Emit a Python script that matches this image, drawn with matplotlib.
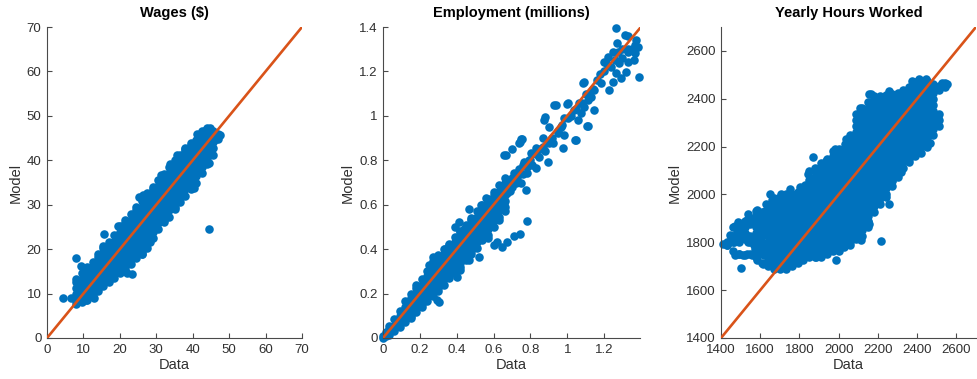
import matplotlib
matplotlib.use("Agg")
import matplotlib.pyplot as plt
from matplotlib.ticker import FuncFormatter

plt.rcParams['font.family'] = ['Liberation Sans', 'DejaVu Sans']

# ---------------- Wages ($) ----------------
# dense band, read column by column (data x, list of model y)
wage_col_x = [8.0, 9.5, 11.0, 12.5, 14.0, 15.5, 17.0, 18.5, 20.0, 21.5, 23.0, 24.5, 26.0, 27.5,
              29.0, 30.5, 32.0, 33.5, 35.0, 36.5, 38.0, 39.5, 41.0, 42.5, 44.0, 45.5, 47.0]
wage_col_y = [
    [7.6, 8.4, 9.8, 11.2, 12.6, 13.2],
    [8.2, 9.1, 10.5, 11.9, 13.3, 14.7],
    [8.6, 9.8, 11.2, 12.6, 14.0, 15.4, 16.0],
    [9.5, 10.5, 11.9, 13.3, 14.7, 16.1, 17.0],
    [10.5, 11.2, 12.6, 14.0, 15.4, 16.8, 18.2, 19.0],
    [11.6, 13.3, 14.7, 16.1, 17.5, 18.9, 20.3, 20.8],
    [12.6, 14.0, 15.4, 16.8, 18.2, 19.6, 21.0, 21.6],
    [13.4, 14.7, 16.1, 17.5, 18.9, 20.3, 21.7, 23.1],
    [14.6, 15.4, 16.8, 18.2, 19.6, 21.0, 22.4, 23.8, 25.2],
    [15.5, 16.1, 17.5, 18.9, 20.3, 21.7, 23.1, 24.5, 25.9, 26.5],
    [16.6, 18.2, 19.6, 21.0, 22.4, 23.8, 25.2, 26.6, 28.0],
    [17.9, 18.9, 20.3, 21.7, 23.1, 24.5, 25.9, 27.3, 28.7, 29.5],
    [19.0, 19.6, 21.0, 22.4, 23.8, 25.2, 26.6, 28.0, 29.4, 30.8, 31.6],
    [20.3, 21.7, 23.1, 24.5, 25.9, 27.3, 28.7, 30.1, 31.5, 32.6],
    [22.4, 23.8, 25.2, 26.6, 28.0, 29.4, 30.8, 32.2, 33.6, 34.0],
    [24.5, 25.9, 27.3, 28.7, 30.1, 31.5, 32.9, 34.3, 35.5],
    [26.0, 26.6, 28.0, 29.4, 30.8, 32.2, 33.6, 35.0, 36.4, 37.0],
    [27.3, 28.7, 30.1, 31.5, 32.9, 34.3, 35.7, 37.1, 38.5],
    [29.0, 29.4, 30.8, 32.2, 33.6, 35.0, 36.4, 37.8, 39.2, 40.0],
    [30.5, 31.5, 32.9, 34.3, 35.7, 37.1, 38.5, 39.9, 41.2],
    [32.0, 33.6, 35.0, 36.4, 37.8, 39.2, 40.6, 42.0, 42.6],
    [33.6, 34.6, 35.7, 37.1, 38.5, 39.9, 41.3, 42.7, 43.5],
    [35.0, 36.4, 37.8, 39.2, 40.6, 42.0, 43.4, 44.6],
    [37.1, 38.5, 39.9, 41.3, 42.7, 44.1, 45.5, 46.5],
    [39.2, 40.6, 42.0, 43.4, 44.8, 46.2, 47.2],
    [41.3, 42.7, 44.1, 45.5, 46.5],
    [44.8, 46.0],
]
# scattered points off the band
wage_extra_x = [4.3, 6.6, 8.0, 9.2, 15.6, 19.5, 23.2, 21.9, 26.0, 28.2, 28.1, 31.7, 44.5, 44.5,
                47.4, 46.3, 44.8, 43.6, 12.8, 10.6, 25.3, 26.4, 31.4, 33.9, 35.6, 37.8, 39.4,
                41.2, 40.3, 42.0, 43.0]
wage_extra_y = [9.0, 9.0, 17.9, 16.2, 23.4, 25.2, 14.4, 14.6, 19.0, 21.5, 22.3, 26.5, 24.6, 39.4,
                45.6, 44.7, 47.3, 46.9, 8.9, 8.5, 31.7, 32.2, 36.8, 39.1, 41.1, 42.8, 43.9,
                45.9, 33.8, 40.5, 39.3]

# ---------------- Employment (millions) ----------------
emp_col_x = [0.0, 0.015, 0.03, 0.06, 0.09, 0.12, 0.15, 0.18, 0.21, 0.24, 0.27, 0.30, 0.33,
             0.36, 0.39, 0.42, 0.45, 0.48, 0.51, 0.54, 0.57, 0.60, 0.63, 0.66]
emp_col_y = [
    [0.0, 0.01],
    [0.008, 0.025],
    [0.014, 0.042, 0.055],
    [0.03, 0.056, 0.084],
    [0.05, 0.07, 0.098, 0.122],
    [0.07, 0.084, 0.112, 0.14, 0.168],
    [0.09, 0.098, 0.126, 0.154, 0.182, 0.2],
    [0.116, 0.14, 0.168, 0.196, 0.224, 0.24],
    [0.138, 0.154, 0.182, 0.21, 0.238, 0.266],
    [0.168, 0.196, 0.224, 0.252, 0.28, 0.3],
    [0.19, 0.21, 0.238, 0.266, 0.294, 0.322, 0.345],
    [0.212, 0.224, 0.252, 0.28, 0.308, 0.336, 0.364, 0.372],
    [0.238, 0.266, 0.294, 0.322, 0.35, 0.378, 0.4],
    [0.27, 0.28, 0.308, 0.336, 0.364, 0.392, 0.42, 0.425],
    [0.294, 0.322, 0.35, 0.378, 0.406, 0.434, 0.455],
    [0.32, 0.336, 0.364, 0.392, 0.42, 0.448, 0.476, 0.48],
    [0.35, 0.378, 0.406, 0.434, 0.462, 0.49, 0.51],
    [0.38, 0.392, 0.42, 0.448, 0.476, 0.504, 0.532, 0.54],
    [0.406, 0.434, 0.462, 0.49, 0.518, 0.546, 0.57],
    [0.44, 0.448, 0.476, 0.504, 0.532, 0.56, 0.588, 0.6],
    [0.462, 0.49, 0.518, 0.546, 0.574, 0.602, 0.625],
    [0.5, 0.532, 0.56, 0.588, 0.616, 0.644, 0.655],
    [0.53, 0.546, 0.574, 0.602, 0.63, 0.658, 0.69],
    [0.57, 0.588, 0.616, 0.644, 0.672, 0.7, 0.72],
]
emp_extra_x = [0.638, 0.666, 0.655, 0.70, 0.738, 0.751, 0.755, 0.745, 0.711, 0.693, 0.747, 0.775,
               0.675, 0.657, 0.784, 0.829, 0.766, 0.802, 0.829, 0.847, 0.893, 0.866, 0.875, 0.882,
               0.902, 0.921, 0.927, 0.938, 0.948, 0.966, 0.975, 0.984, 1.0, 1.002, 1.002, 1.038,
               1.042, 1.047, 1.057, 1.066, 1.075, 1.084, 1.093, 1.109, 1.111, 1.111, 1.129, 1.147,
               1.147, 1.184, 1.202, 1.215, 1.22, 1.229, 1.248, 1.248, 1.266, 1.266, 1.271, 1.273,
               1.293, 1.311, 1.32, 1.329, 1.329, 1.329, 1.366, 1.375, 1.384, 1.387, 1.09,
               0.68, 0.70, 0.72, 0.72, 0.74, 0.76, 0.78, 0.80, 0.81, 0.70, 0.69, 0.73, 0.76, 0.79,
               0.83, 0.85, 0.87, 0.88, 0.90, 0.92, 0.95, 0.97, 0.98, 1.02, 1.05, 1.08, 1.10, 1.12,
               1.14, 1.16, 1.18, 1.20, 1.24, 1.26, 1.28, 1.30, 1.33, 1.35, 1.37, 1.30, 1.36,
               0.784, 0.602, 0.618, 0.648, 0.675, 0.711, 0.744, 0.52, 0.466, 0.42, 0.402, 0.384,
               0.293, 0.302, 0.57, 0.39, 0.41, 0.466, 0.336, 0.273, 0.44, 0.25, 0.53, 0.56]
emp_extra_y = [0.681, 0.824, 0.822, 0.852, 0.877, 0.894, 0.897, 0.882, 0.742, 0.712, 0.697, 0.666,
               0.651, 0.606, 0.742, 0.764, 0.794, 0.832, 0.854, 0.816, 0.794, 0.899, 0.982, 0.995,
               0.949, 0.877, 1.047, 1.049, 0.922, 0.952, 0.854, 0.914, 1.055, 0.99, 1.057, 1.027,
               0.893, 0.891, 0.982, 1.057, 1.012, 1.15, 1.042, 0.953, 1.072, 0.955, 1.087, 1.117,
               1.027, 1.147, 1.244, 1.235, 1.267, 1.117, 1.289, 1.154, 1.192, 1.395, 1.327, 1.288,
               1.169, 1.364, 1.199, 1.36, 1.289, 1.244, 1.282, 1.342, 1.312, 1.177, 1.152,
               0.70, 0.72, 0.70, 0.74, 0.76, 0.78, 0.77, 0.80, 0.78, 0.68, 0.66, 0.72, 0.74, 0.80,
               0.83, 0.85, 0.86, 0.84, 0.88, 0.90, 0.93, 0.96, 0.99, 1.00, 1.03, 1.06, 1.10, 1.10,
               1.12, 1.16, 1.19, 1.20, 1.22, 1.25, 1.24, 1.30, 1.30, 1.30, 1.32, 1.26, 1.25,
               0.528, 0.419, 0.43, 0.408, 0.434, 0.459, 0.468, 0.366, 0.35, 0.306, 0.276, 0.31,
               0.171, 0.16, 0.45, 0.50, 0.522, 0.579, 0.402, 0.365, 0.49, 0.33, 0.60, 0.63]

# ---------------- Yearly Hours Worked ----------------
hrs_col_x = [1430, 1460, 1490, 1520, 1550, 1580, 1610,
             1640, 1670, 1700, 1730, 1760, 1790, 1820, 1850, 1880, 1910, 1940, 1970, 2000, 2030,
             2060, 2090, 2120, 2150, 2180, 2210, 2240, 2270, 2300, 2330, 2360, 2390, 2420, 2450,
             2480, 2510, 2540]
hrs_col_y = [
    [1790, 1800],
    [1762, 1800, 1825, 1862],
    [1750, 1800, 1825, 1850, 1880],
    [1745, 1812, 1837, 1862, 1890],
    [1750, 1800, 1825, 1875, 1900],
    [1737, 1762, 1787, 1812, 1837, 1862, 1887, 1912, 1930],
    [1715, 1750, 1775, 1800, 1825, 1850, 1875, 1900, 1925],
    [1700, 1725, 1750, 1775, 1800, 1825, 1850, 1875, 1900, 1925, 1950],
    [1687, 1712, 1737, 1762, 1787, 1812, 1837, 1862, 1887, 1912, 1937, 1962, 1987],
    [1688, 1700, 1725, 1750, 1775, 1800, 1825, 1850, 1875, 1900, 1925, 1950, 1975, 1990],
    [1687, 1712, 1737, 1762, 1787, 1812, 1837, 1862, 1887, 1912, 1937, 1962, 1987, 2000],
    [1700, 1725, 1750, 1775, 1800, 1825, 1850, 1875, 1900, 1925, 1950, 1975, 2000],
    [1712, 1737, 1762, 1787, 1812, 1837, 1862, 1887, 1912, 1937, 1962, 1987, 2012],
    [1725, 1750, 1775, 1800, 1825, 1850, 1875, 1900, 1925, 1950, 1975, 2000, 2025],
    [1737, 1762, 1787, 1812, 1837, 1862, 1887, 1912, 1937, 1962, 1987, 2012, 2037, 2062],
    [1738, 1750, 1775, 1800, 1825, 1850, 1875, 1900, 1925, 1950, 1975, 2000, 2025, 2050, 2075,
     2100, 2110],
    [1737, 1762, 1787, 1812, 1837, 1862, 1887, 1912, 1937, 1962, 1987, 2012, 2037, 2062, 2087,
     2112, 2130],
    [1750, 1775, 1800, 1825, 1850, 1875, 1900, 1925, 1950, 1975, 2000, 2025, 2050, 2075, 2100,
     2125, 2150],
    [1762, 1787, 1812, 1837, 1862, 1887, 1912, 1937, 1962, 1987, 2012, 2037, 2062, 2087, 2112,
     2137, 2162, 2180],
    [1765, 1775, 1800, 1825, 1850, 1875, 1900, 1925, 1950, 1975, 2000, 2025, 2050, 2075, 2100,
     2125, 2150, 2175, 2190],
    [1787, 1812, 1837, 1862, 1887, 1912, 1937, 1962, 1987, 2012, 2037, 2062, 2087, 2112, 2137,
     2162, 2187, 2212],
    [1790, 1800, 1825, 1850, 1875, 1900, 1925, 1950, 1975, 2000, 2025, 2050, 2075, 2100, 2125,
     2150, 2175, 2200, 2225, 2250],
    [1812, 1837, 1862, 1887, 1912, 1937, 1962, 1987, 2012, 2037, 2062, 2087, 2112, 2137, 2162,
     2187, 2212, 2237, 2262, 2287, 2312],
    [1825, 1850, 1875, 1900, 1925, 1950, 1975, 2000, 2025, 2050, 2075, 2100, 2125, 2150, 2175,
     2200, 2225, 2250, 2275, 2300, 2325, 2350, 2360],
    [1862, 1887, 1912, 1937, 1962, 1987, 2012, 2037, 2062, 2087, 2112, 2137, 2162, 2187, 2212,
     2237, 2262, 2287, 2312, 2337, 2362, 2387],
    [1925, 1950, 1975, 2000, 2025, 2050, 2075, 2100, 2125, 2150, 2175, 2200, 2225, 2250, 2275,
     2300, 2325, 2350, 2375, 2400, 2412],
    [1962, 1987, 2012, 2037, 2062, 2087, 2112, 2137, 2162, 2187, 2212, 2237, 2262, 2287, 2312,
     2337, 2362, 2387, 2412],
    [1990, 2000, 2025, 2050, 2075, 2100, 2125, 2150, 2175, 2200, 2225, 2250, 2275, 2300, 2325,
     2350, 2375, 2400, 2415],
    [2037, 2062, 2087, 2112, 2137, 2162, 2187, 2212, 2237, 2262, 2287, 2312, 2337, 2362, 2387,
     2412, 2422],
    [2075, 2100, 2125, 2150, 2175, 2200, 2225, 2250, 2275, 2300, 2325, 2350, 2375, 2400, 2425],
    [2112, 2137, 2162, 2187, 2212, 2237, 2262, 2287, 2312, 2337, 2362, 2387, 2412, 2437],
    [2137, 2150, 2175, 2200, 2225, 2250, 2275, 2300, 2325, 2350, 2375, 2400, 2425, 2450],
    [2162, 2187, 2212, 2237, 2262, 2287, 2312, 2337, 2362, 2387, 2412, 2437, 2462, 2472],
    [2175, 2200, 2225, 2250, 2275, 2300, 2325, 2350, 2375, 2400, 2425, 2450, 2475],
    [2200, 2212, 2237, 2262, 2287, 2312, 2337, 2362, 2387, 2412, 2437, 2462, 2475],
    [2250, 2275, 2300, 2325, 2350, 2375, 2400, 2425, 2450, 2460],
    [2287, 2312, 2337, 2437, 2455],
    [2450, 2465],
]
hrs_extra_x = [1412, 1430, 1446, 1446, 1465, 1471, 1480, 1488, 1500, 1510, 1531, 1539, 1525, 1540,
               1555, 1560, 1570, 1581, 1585, 1590, 1598, 1600, 1610, 1615, 1620, 1625, 1471, 1490,
               1514, 1535, 1556, 1500, 1581, 1590, 1615, 1620, 1575, 1605, 1625, 1630,
               1649, 1658, 1708, 1751, 1802, 1844, 1870, 1851, 1830,
               2217, 1988, 2259, 2155, 2113, 2105, 2029, 1885, 2208, 2175, 2149,
               2155, 2165, 2257, 2375, 2410, 2443, 2527, 2550, 2494, 2505, 2480, 2463, 2443, 2409,
               2341, 2316, 2274, 2088, 2107, 2039, 1980, 1937]
hrs_extra_y = [1792, 1788, 1805, 1830, 1800, 1870, 1845, 1885, 1820, 1860, 1892, 1919, 1830, 1800,
               1880, 1815, 1790, 1933, 1870, 1840, 1906, 1810, 1780, 1870, 1900, 1840, 1746, 1752,
               1746, 1750, 1746, 1693, 1725, 1755, 1711, 1745, 1770, 1760, 1930, 1960,
               2003, 1975, 2003, 2024, 2030, 2086, 2155, 2100, 2040,
               1807, 1728, 1960, 1877, 1808, 1835, 1780, 1738, 1967, 1932, 1883,
               2420, 2420, 2433, 2475, 2482, 2482, 2468, 2462, 2322, 2321, 2293, 2217, 2211, 2183,
               2155, 2093, 2058, 2336, 2362, 2231, 2189, 2140]

titles = ['Wages ($)', 'Employment (millions)', 'Yearly Hours Worked']

blue = '#0072BD'
orange = '#D95319'
axis_gray = '#4a4a4a'
text_gray = '#303030'


def flatten(col_x, col_y, extra_x, extra_y):
    xs, ys = [], []
    for x, col in zip(col_x, col_y):
        for y in col:
            xs.append(x)
            ys.append(y)
    return xs + extra_x, ys + extra_y


panels = [
    flatten(wage_col_x, wage_col_y, wage_extra_x, wage_extra_y),
    flatten(emp_col_x, emp_col_y, emp_extra_x, emp_extra_y),
    flatten(hrs_col_x, hrs_col_y, hrs_extra_x, hrs_extra_y),
]

fig = plt.figure(figsize=(9.77, 3.79), dpi=100)
W, H = 977, 379
boxes = [(47, 302), (383, 640), (721, 976)]
limits = [((0, 70), (0, 70)), ((0, 1.395), (0, 1.4)), ((1400, 2700), (1400, 2700))]
xticks = [range(0, 71, 10), [0, 0.2, 0.4, 0.6, 0.8, 1.0, 1.2], range(1400, 2601, 200)]
yticks = [range(0, 71, 10), [0, 0.2, 0.4, 0.6, 0.8, 1.0, 1.2, 1.4], range(1400, 2601, 200)]
diag = [(0, 70), (0, 1.4), (1400, 2700)]

fmt = FuncFormatter(lambda v, p: '%g' % round(v, 6))

for i in range(3):
    l, r = boxes[i]
    ax = fig.add_axes([l / W, (379 - 338) / H, (r - l) / W, 311 / H])
    xs, ys = panels[i]
    ax.scatter(xs, ys, s=38, c=blue, linewidths=0, clip_on=False, zorder=2)
    ax.plot(diag[i], diag[i], color=orange, linewidth=1.9, zorder=3)
    ax.set_xlim(limits[i][0])
    ax.set_ylim(limits[i][1])
    ax.set_xticks(list(xticks[i]))
    ax.set_yticks(list(yticks[i]))
    ax.xaxis.set_major_formatter(fmt)
    ax.yaxis.set_major_formatter(fmt)
    ax.spines['top'].set_visible(False)
    ax.spines['right'].set_visible(False)
    for s in ('left', 'bottom'):
        ax.spines[s].set_color(axis_gray)
        ax.spines[s].set_linewidth(0.8)
    ax.tick_params(direction='in', length=3.5, width=0.8, color=axis_gray,
                   labelsize=9.5, labelcolor=text_gray, pad=4)
    ax.set_title(titles[i], fontsize=10.5, fontweight='bold', color='#000000', pad=7)
    ax.set_xlabel('Data', fontsize=10.5, color=text_gray, labelpad=2)
    ax.set_ylabel('Model', fontsize=10.5, color=text_gray, labelpad=3)

fig.savefig('out.png', dpi=100)
